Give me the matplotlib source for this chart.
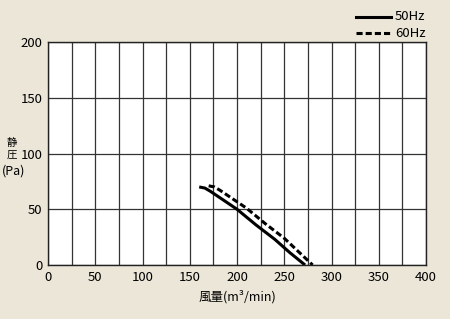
import matplotlib.pyplot as plt
import numpy as np

plt.rcParams['font.family'] = ['Noto Sans CJK JP', 'DejaVu Sans']

# fan curves
flow_50 = [160, 166, 172, 186, 200, 220, 240, 256, 272]
pres_50 = [70, 69, 66, 58, 50, 36, 23, 11, 0]
flow_60 = [170, 176, 182, 196, 210, 230, 250, 265, 280]
pres_60 = [71, 70, 67, 59, 51, 37, 24, 12, 0]

x_ticks = [0, 50, 100, 150, 200, 250, 300, 350, 400]
y_ticks = [0, 50, 100, 150, 200]
bg = '#ece6d8'
dash = (0, (2.0, 1.0))

fig = plt.figure(figsize=(4.5, 3.19), dpi=100, facecolor=bg)
ax = fig.add_axes([0.1067, 0.1693, 0.84, 0.699])
ax.set_facecolor('white')

ax.plot(flow_50, pres_50, color='black', lw=2.2, solid_capstyle='butt')
ax.plot(flow_60, pres_60, color='black', lw=2.2, linestyle=dash, dash_capstyle='butt')

ax.set_xlim(0, 400)
ax.set_ylim(0, 200)
ax.set_xticks(x_ticks)
ax.set_yticks(y_ticks)
ax.set_xticks(np.arange(25, 400, 50), minor=True)
ax.grid(True, which='both', axis='x', color='#333333', lw=0.9)
ax.grid(True, which='major', axis='y', color='#333333', lw=0.9)
ax.tick_params(which='both', length=0, labelsize=9.5, pad=4)
for s in ax.spines.values():
    s.set_color('#222222')
    s.set_linewidth(1.0)

fig.text(0.527, 0.069, '風量(m³/min)', fontsize=9, ha='center', va='center')
fig.text(0.027, 0.552, '静', fontsize=7.5, ha='center', va='center')
fig.text(0.027, 0.514, '圧', fontsize=7.5, ha='center', va='center')
fig.text(0.031, 0.464, '(Pa)', fontsize=9, ha='center', va='center')

# legend drawn in figure coords
fig.lines.append(plt.Line2D([0.79, 0.868], [0.948, 0.948], transform=fig.transFigure, color='black', lw=2.2))
fig.lines.append(plt.Line2D([0.79, 0.868], [0.895, 0.895], transform=fig.transFigure, color='black', lw=2.2,
                            linestyle=dash))
fig.text(0.878, 0.948, '50Hz', fontsize=9.5, va='center')
fig.text(0.878, 0.895, '60Hz', fontsize=9.5, va='center')

fig.savefig('out.png', dpi=100, facecolor=bg)
